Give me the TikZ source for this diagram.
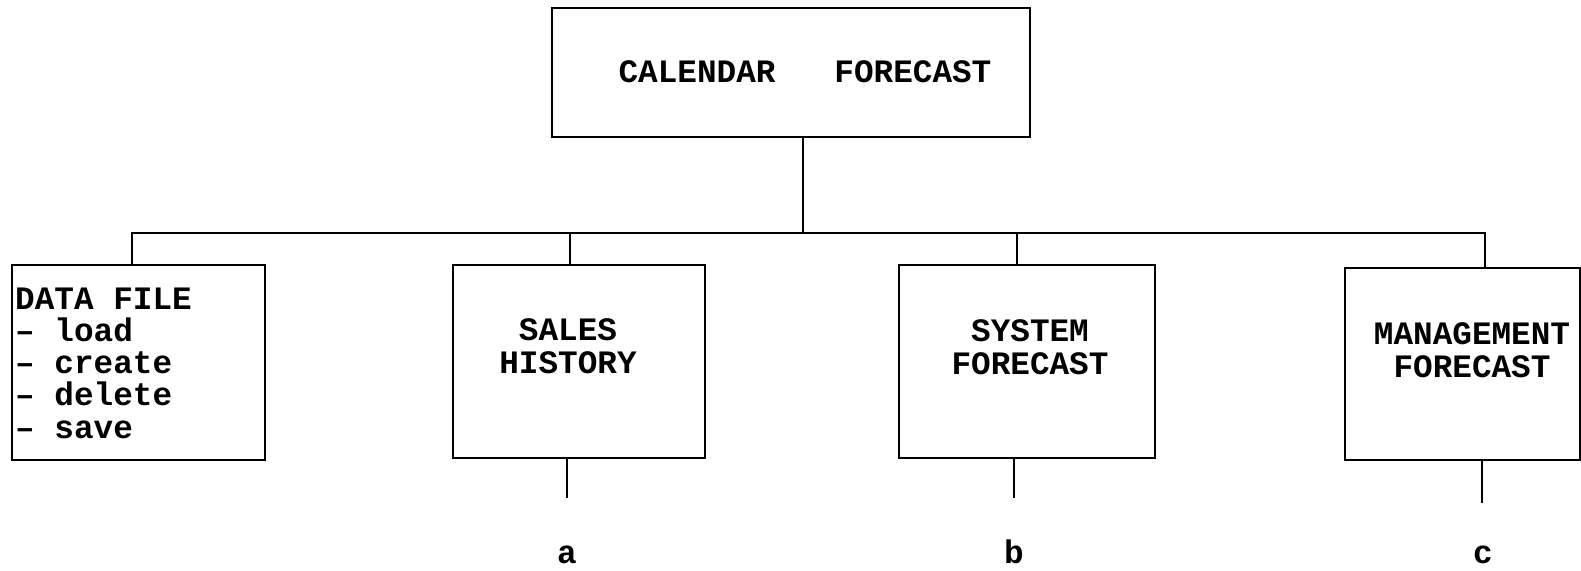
\documentclass[tikz,border=0pt]{standalone}
\usepackage{fontspec}
\newfontfamily\typewriter{Liberation Mono}

\begin{document}
\begin{tikzpicture}[
    x=1pt, y=-1pt,
    box/.style={rectangle, draw=black, line width=2pt, inner sep=0pt},
    boxtext/.style={align=center, inner sep=0pt,
                font=\fontsize{32.7}{33}\selectfont\typewriter\bfseries},
    tag/.style={anchor=base, inner sep=0pt,
                font=\fontsize{32.7}{33}\selectfont\typewriter\bfseries},
    connector/.style={line width=2pt}
]

\useasboundingbox (0,0) rectangle (1581,570);

% ================= BOXES =================
\node[box, minimum width=478pt, minimum height=129pt] (Cal) at (791,72.5) {};
\node[boxtext] (CalText) at (805,72) {CALENDAR\ \ \ FORECAST};

\node[box, minimum width=253pt, minimum height=195pt] (Data) at (138.5,362.5) {};
\node[boxtext, align=left, anchor=west,
      font=\fontsize{32.7}{32.3}\selectfont\typewriter\bfseries] (DataText) at (15,363)
      {DATA FILE\\– load\\– create\\– delete\\– save};

\node[box, minimum width=252pt, minimum height=193pt] (Sales) at (579,361.5) {};
\node[boxtext] (SalesText) at (568,346.5) {SALES\\HISTORY};

\node[box, minimum width=256pt, minimum height=193pt] (Sys) at (1027,361.5) {};
\node[boxtext] (SysText) at (1030,347) {SYSTEM\\FORECAST};

\node[box, minimum width=235pt, minimum height=192pt] (Mgmt) at (1462.5,364) {};
\node[boxtext] (MgmtText) at (1472,350) {MANAGEMENT\\FORECAST};

% ================= TAGS =================
\node[tag] (TagA) at (567,563) {a};
\node[tag] (TagB) at (1014,563) {b};
\node[tag] (TagC) at (1483,563) {c};

% ================= COORDINATES =================
\coordinate (Hub) at (803,233);
\coordinate (TapData) at (132,233);
\coordinate (TapSales) at (570,233);
\coordinate (TapSys) at (1017,233);
\coordinate (TapMgmt) at (1485,233);
\coordinate (EndA) at (567,498);
\coordinate (EndB) at (1014,498);
\coordinate (EndC) at (1482,503);

% ================= DRAWING LINES =================
\draw[connector] (Cal.south -| Hub) -- (Hub);
\draw[connector] (TapData |- Data.north) -- (TapData) -- (TapMgmt) -- (TapMgmt |- Mgmt.north);
\draw[connector] (TapSales) -- (TapSales |- Sales.north);
\draw[connector] (TapSys) -- (TapSys |- Sys.north);
\draw[connector] (Sales.south -| EndA) -- (EndA);
\draw[connector] (Sys.south -| EndB) -- (EndB);
\draw[connector] (Mgmt.south -| EndC) -- (EndC);

\end{tikzpicture}
\end{document}
